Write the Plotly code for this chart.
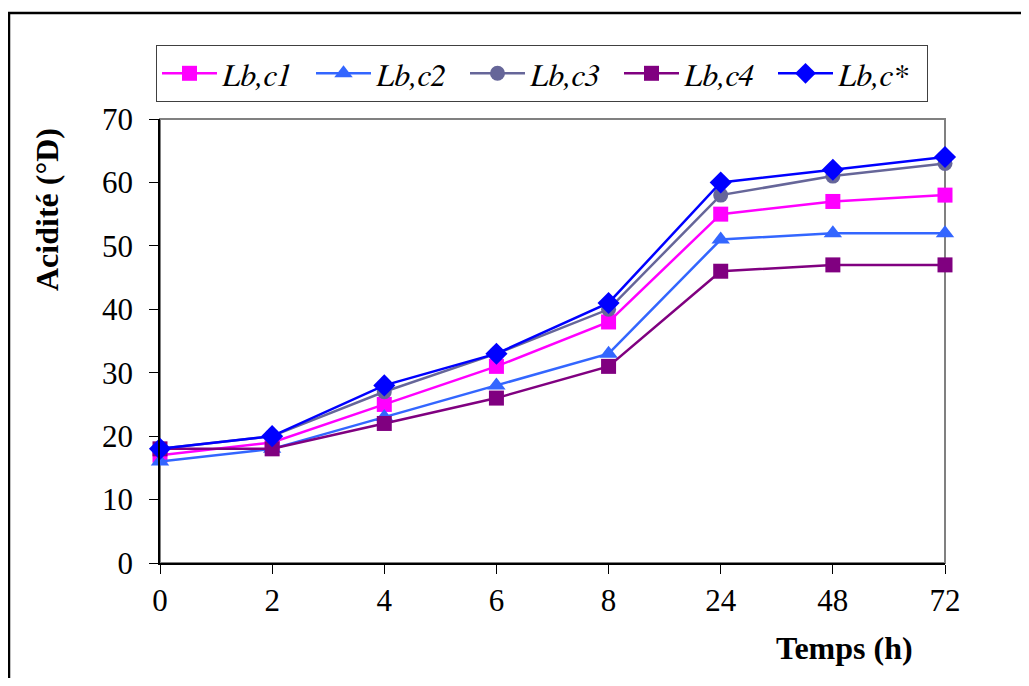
import plotly.graph_objects as go

categories = ["0", "2", "4", "6", "8", "24", "48", "72"]
series_names = ["Lb,c1", "Lb,c2", "Lb,c3", "Lb,c4", "Lb,c*"]
lb_c1 = [17, 19, 25, 31, 38, 55, 57, 58]
lb_c2 = [16, 18, 23, 28, 33, 51, 52, 52]
lb_c3 = [18, 20, 27, 33, 40, 58, 61, 63]
lb_c4 = [18, 18, 22, 26, 31, 46, 47, 47]
lb_cstar = [18, 20, 28, 33, 41, 60, 62, 64]
y_ticks = [0, 10, 20, 30, 40, 50, 60, 70]

series_values = [lb_c1, lb_c2, lb_c3, lb_c4, lb_cstar]
colors = ["#FF00FF", "#3366FF", "#666699", "#800080", "#0000FF"]
symbols = ["square", "triangle-up", "circle", "square", "diamond"]
sizes = [15, 16, 15, 15, 17]

FONT = "Liberation Serif"
ITALIC_FONT = "FreeSerif, Nimbus Roman, serif"
OFF = 8  # default body margin of the html page
W, H = 1029 - 2 * OFF, 686 - 2 * OFF
# target page coordinates of the plot area
PL, PR, PT, PB = 160, 945, 119, 563
L, T = PL - OFF, PT - OFF
R, B = W - (PR - OFF), H - (PB - OFF)
pw, ph = W - L - R, H - T - B

def px_x(x):
    return (x - PL) / pw

def px_y(y):
    return (PB - y) / ph

xs = list(range(len(categories)))
fig = go.Figure()
for name, vals, c, s, sz in zip(series_names, series_values, colors, symbols, sizes):
    fig.add_trace(go.Scatter(
        x=xs, y=vals, name=name, mode="lines+markers",
        line=dict(color=c, width=2.5),
        marker=dict(color=c, symbol=s, size=sz),
        cliponaxis=False,
    ))

fig.update_layout(
    width=W, height=H,
    margin=dict(l=L, r=R, t=T, b=B),
    paper_bgcolor="white", plot_bgcolor="white",
    font=dict(family=FONT, size=31, color="black"),
    showlegend=True,
    legend=dict(
        orientation="h", x=px_x(156), y=px_y(45), xanchor="left", yanchor="top",
        bordercolor="#404040", borderwidth=1, bgcolor="white",
        font=dict(family=ITALIC_FONT, size=32, style="italic"),
        entrywidth=84, entrywidthmode="pixels", itemwidth=55,
        tracegroupgap=0,
    ),
    xaxis=dict(
        range=[0, 7], tickmode="array", tickvals=xs, ticktext=categories,
        showgrid=False, zeroline=False, showline=True, linecolor="black", linewidth=1.5,
        ticks="outside", ticklen=9, tickcolor="black", tickwidth=1,
        tickfont=dict(family=FONT, size=31), fixedrange=True,
    ),
    yaxis=dict(
        range=[0, 70], tickmode="array", tickvals=y_ticks,
        showgrid=False, zeroline=False, showline=True, linecolor="black", linewidth=1.5,
        ticks="outside", ticklen=9, tickcolor="black", tickwidth=1,
        ticklabelstandoff=10,
        tickfont=dict(family=FONT, size=31), fixedrange=True,
    ),
    shapes=[
        dict(type="rect", xref="paper", yref="paper", x0=0, x1=1, y0=0, y1=1,
             line=dict(color="#808080", width=2), layer="below"),
        dict(type="rect", xref="paper", yref="paper",
             x0=px_x(9), x1=px_x(1045), y0=px_y(700), y1=px_y(13),
             line=dict(color="black", width=2.5), layer="below"),
    ],
    annotations=[
        dict(text="<b>Acidité (°D)</b>", xref="paper", yref="paper",
             x=px_x(47), y=px_y(210), textangle=-90, showarrow=False,
             xanchor="center", yanchor="middle", font=dict(family=FONT, size=32)),
        dict(text="<b>Temps (h)</b>", xref="paper", yref="paper",
             x=px_x(844), y=px_y(648), showarrow=False,
             xanchor="center", yanchor="middle", font=dict(family=FONT, size=32)),
    ],
)

fig.write_html("out.html")
